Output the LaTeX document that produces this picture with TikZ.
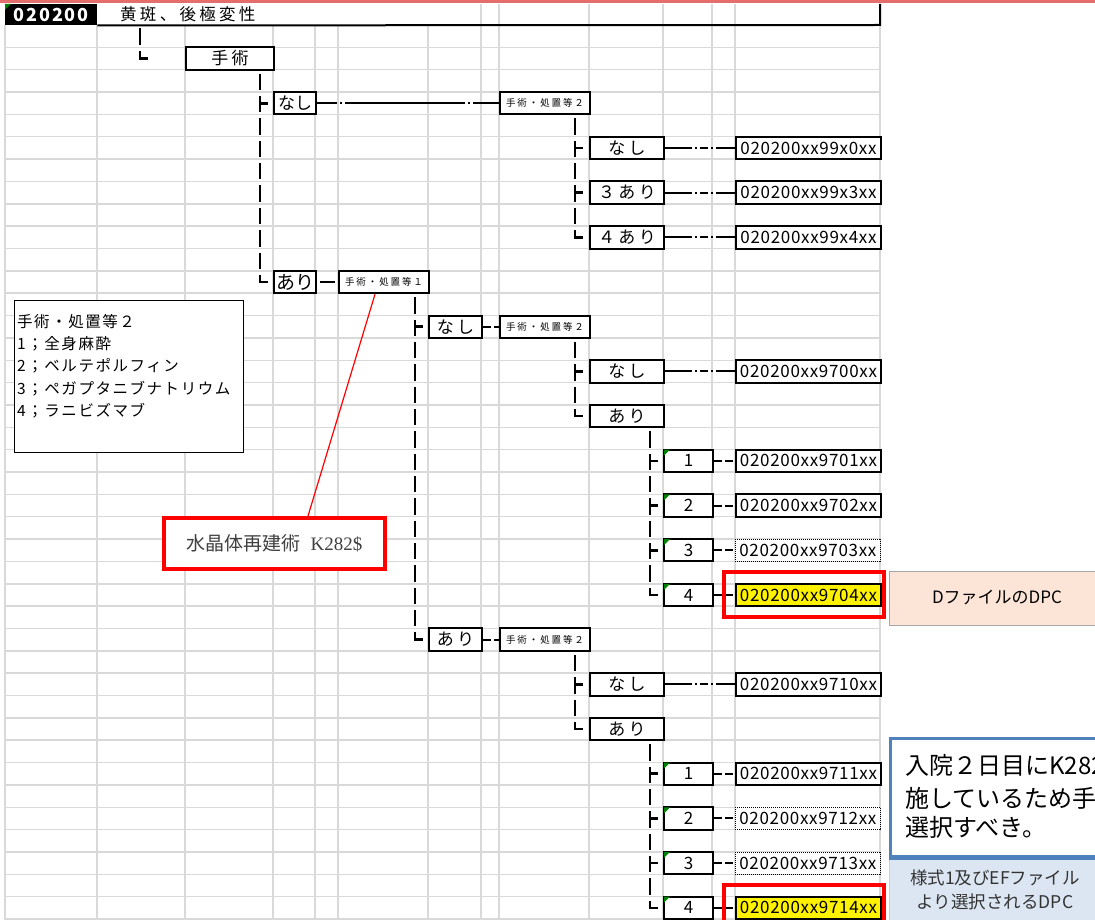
\documentclass[tikz,border=0pt]{standalone}
\usepackage{fontspec}
\setmainfont{Noto Sans CJK JP}
\newfontfamily\jp{Noto Sans CJK JP}
\newfontfamily\jpw[LetterSpace=20]{Noto Sans CJK JP}
\newfontfamily\jpm[LetterSpace=10]{Noto Sans CJK JP}
\newfontfamily\jpc[LetterSpace=4]{Noto Sans CJK JP}
\newfontfamily\lserif{Liberation Serif}
\usetikzlibrary{calc}
\definecolor{gridc}{RGB}{217,217,217}
\definecolor{topband}{RGB}{228,110,110}
\definecolor{tri}{RGB}{0,128,0}
\definecolor{peach}{RGB}{252,228,214}
\definecolor{bluebd}{RGB}{79,129,189}
\definecolor{paleblue}{RGB}{220,230,242}
\definecolor{calltext}{RGB}{64,64,64}
\newcommand\fsz[1]{\fontsize{#1}{#1}\selectfont}
\newcommand\R[1]{36.2+22.35*#1}
\begin{document}
\begin{tikzpicture}[x=1pt,y=-1pt,
  gridline/.style={draw=gridc, line width=1.5pt},
  cell/.style={draw, line width=2pt, fill=white, inner sep=0pt, minimum height=22.35pt, anchor=west},
  codecell/.style={cell, minimum width=145pt, font=\fsz{17}\jpc},
  dotcell/.style={codecell, line width=0.8pt, dash pattern=on 1pt off 1pt},
  yelcell/.style={codecell, fill=yellow},
  numcell/.style={cell, minimum width=49pt, font=\fsz{17}\jp},
  lvcell/.style={cell, minimum width=74pt, font=\fsz{17}\jpw},
  spcell/.style={cell, minimum width=90pt, font=\fsz{9.5}\jpw},
  trunk/.style={line width=2.6pt, dash pattern=on 16.35pt off 6pt, dash phase=19.35pt},
  tick/.style={line width=2.6pt},
  longdd/.style={line width=2pt, dash pattern=on 20pt off 3pt on 2pt off 3pt on 120pt off 3pt on 2pt off 3pt on 60pt},
  dd/.style={line width=2pt, dash pattern=on 27pt off 3pt on 2pt off 3pt on 8pt off 3pt on 2pt off 3pt on 60pt},
  sdash/.style={line width=2pt, dash pattern=on 8pt off 3pt},
  redbox/.style={draw=red, line width=4pt},
  gtri/.style={fill=tri}
]
\useasboundingbox (0,0) rectangle (1095,920);
\clip (0,0) rectangle (1095,920);
\fill[white] (0,0) rectangle (1095,920);
% spreadsheet grid
\foreach \x in {5,97,185,273,315,338,428} \draw[gridline] (\x,25) -- (\x,920);
\foreach \x in {481,499,589,663,712,735,880} \draw[gridline] (\x,4) -- (\x,920);
\foreach \k in {1,...,40} \draw[gridline] (5,{25+22.35*\k}) -- (880,{25+22.35*\k});
\fill[topband] (0,0) rectangle (1095,3.5);

% header
\node[fill=black, text=white, font=\fsz{18}\jpm\bfseries, minimum width=92pt, minimum height=21pt, inner sep=0pt, anchor=north west] (code) at (5,4) {020200};
\fill[gtri] (code.north west) -- ++(6,0) -- ++(-6,6) -- cycle;
\node[anchor=west, font=\fsz{16.5}\jpw, inner sep=0pt] (title) at (120,14.5) {黄斑、後極変性};
\draw[line width=2pt] (code.south east) -- (880,25) -- (880,4);

% trunk x positions
\coordinate (tA) at (140,0);
\coordinate (tB) at (260,0);
\coordinate (tC) at (575,0);
\coordinate (tD) at (415,0);
\coordinate (tE) at (650,0);

% nodes
\node[cell, minimum width=88pt, font=\fsz{17}\jpw] (sh) at (185,{\R{1}}) {手術};
\node[cell, minimum width=42pt, font=\fsz{17}\jp] (n1) at (273,{\R{3}}) {なし};
\node[spcell] (sp2a) at (499,{\R{3}}) {手術・処置等２};
\node[lvcell] (n1a) at (589,{\R{5}}) {なし};
\node[lvcell] (a3) at (589,{\R{7}}) {３あり};
\node[lvcell] (a4) at (589,{\R{9}}) {４あり};
\node[codecell] (c1) at (735,{\R{5}}) {020200xx99x0xx};
\node[codecell] (c2) at (735,{\R{7}}) {020200xx99x3xx};
\node[codecell] (c3) at (735,{\R{9}}) {020200xx99x4xx};
\node[cell, minimum width=42pt, font=\fsz{19}\jp] (a1) at (273,{\R{11}}) {あり};
\node[spcell] (sp1) at (338,{\R{11}}) {手術・処置等１};
\node[cell, minimum width=53pt, font=\fsz{17}\jpw] (n2) at (428,{\R{13}}) {なし};
\node[spcell] (sp2b) at (499,{\R{13}}) {手術・処置等２};
\node[lvcell] (n2a) at (589,{\R{15}}) {なし};
\node[codecell] (c4) at (735,{\R{15}}) {020200xx9700xx};
\node[lvcell] (a2a) at (589,{\R{17}}) {あり};
\node[numcell] (b1) at (663,{\R{19}}) {1};
\node[numcell] (b2) at (663,{\R{21}}) {2};
\node[numcell] (b3) at (663,{\R{23}}) {3};
\node[numcell] (b4) at (663,{\R{25}}) {4};
\node[codecell] (c5) at (735,{\R{19}}) {020200xx9701xx};
\node[codecell] (c6) at (735,{\R{21}}) {020200xx9702xx};
\node[dotcell] (c7) at (735,{\R{23}}) {020200xx9703xx};
\node[yelcell] (c8) at (735,{\R{25}}) {020200xx9704xx};
\node[cell, minimum width=53pt, font=\fsz{17}\jpw] (a2) at (428,{\R{27}}) {あり};
\node[spcell] (sp2c) at (499,{\R{27}}) {手術・処置等２};
\node[lvcell] (n3a) at (589,{\R{29}}) {なし};
\node[codecell] (c9) at (735,{\R{29}}) {020200xx9710xx};
\node[lvcell] (a3a) at (589,{\R{31}}) {あり};
\node[numcell] (d1) at (663,{\R{33}}) {1};
\node[numcell] (d2) at (663,{\R{35}}) {2};
\node[numcell] (d3) at (663,{\R{37}}) {3};
\node[numcell] (d4) at (663,{\R{39}}) {4};
\node[codecell] (c10) at (735,{\R{33}}) {020200xx9711xx};
\node[dotcell] (c11) at (735,{\R{35}}) {020200xx9712xx};
\node[dotcell] (c12) at (735,{\R{37}}) {020200xx9713xx};
\node[yelcell] (c13) at (735,{\R{39}}) {020200xx9714xx};

% green corner marks
\foreach \n in {b1,b2,b3,b4,d1,d2,d3,d4}
  \fill[gtri] ($(\n.north west)+(1,1)$) -- ++(6,0) -- ++(-6,6) -- cycle;

% trunks (vertical dashed lines ending in a corner)
\draw[trunk] (tA |- code.south) -- (tA |- sh.west) -- ++(8.2,0);
\draw[trunk] (tB |- sh.south) -- (tB |- a1.west) -- ++(8.2,0);
\draw[tick] (tB |- n1.west) -- ++(8,0);
\draw[trunk] (tC |- sp2a.south) -- (tC |- a4.west) -- ++(8.2,0);
\draw[tick] (tC |- n1a.west) -- ++(8,0);
\draw[tick] (tC |- a3.west) -- ++(8,0);
\draw[trunk] (tD |- sp1.south) -- (tD |- a2.west) -- ++(8.2,0);
\draw[tick] (tD |- n2.west) -- ++(8,0);
\draw[trunk] (tC |- sp2b.south) -- (tC |- a2a.west) -- ++(8.2,0);
\draw[tick] (tC |- n2a.west) -- ++(8,0);
\draw[trunk] (tE |- a2a.south) -- (tE |- b4.west) -- ++(8.2,0);
\foreach \n in {b1,b2,b3} \draw[tick] (tE |- \n.west) -- ++(8,0);
\draw[trunk] (tC |- sp2c.south) -- (tC |- a3a.west) -- ++(8.2,0);
\draw[tick] (tC |- n3a.west) -- ++(8,0);
\draw[trunk] (tE |- a3a.south) -- (tE |- d4.west) -- ++(8.2,0);
\foreach \n in {d1,d2,d3} \draw[tick] (tE |- \n.west) -- ++(8,0);

% horizontal connectors
\draw[longdd] (n1.east) -- (sp2a.west);
\draw[dd] (n1a.east) -- (c1.west);
\draw[dd] (a3.east) -- (c2.west);
\draw[dd] (a4.east) -- (c3.west);
\draw[dd] (n2a.east) -- (c4.west);
\draw[dd] (n3a.east) -- (c9.west);
\draw[line width=2pt, shorten <=3pt, shorten >=3pt] (a1.east) -- (sp1.west);
\draw[sdash] (n2.east) -- (sp2b.west);
\draw[sdash] (a2.east) -- (sp2c.west);
\draw[sdash] (b1.east) -- (c5.west);
\draw[sdash] (b2.east) -- (c6.west);
\draw[sdash] (b3.east) -- (c7.west);
\draw[sdash] (b4.east) -- (c8.west);
\draw[sdash] (d1.east) -- (c10.west);
\draw[sdash] (d2.east) -- (c11.west);
\draw[sdash] (d3.east) -- (c12.west);
\draw[sdash] (d4.east) -- (c13.west);

% legend box
\node[draw, line width=1.2pt, fill=white, anchor=north west, minimum width=229pt, minimum height=152pt, inner sep=0pt] (legend) at (14,300) {};
\node[anchor=north west, align=left, inner sep=0pt, font=\fontsize{15.5}{22.3}\selectfont\jpm] (legendtext) at (17,314)
  {手術・処置等２\\1；全身麻酔\\2；ベルテポルフィン\\3；ペガプタニブナトリウム\\4；ラニビズマブ};

% callout for K282
\node[redbox, fill=white, minimum width=221pt, minimum height=51pt, inner sep=0pt, text=calltext, font=\fsz{19}\jp] (callout) at (274.5,543.5) {水晶体再建術\hspace{10pt}{\lserif K282\$}};
\draw[red, line width=1.2pt] ($(sp1.south west)+(37,0)$) -- ($(callout.north west)+(146,0)$);

% red highlight boxes
\draw[redbox] ($(c8.north west)+(-11,-11)$) rectangle ($(c8.south east)+(2,10)$);
\draw[redbox] ($(c13.north west)+(-11,-11)$) rectangle ($(c13.south east)+(2,20)$);

% D file box
\node[draw=gray!70, line width=1pt, fill=peach, minimum width=210pt, minimum height=54pt, inner sep=0pt, anchor=north west] (dfile) at (889,571) {};
\node[font=\fsz{17}\jp, inner sep=0pt] (dfiletext) at (997,598) {DファイルのDPC};

% blue note box
\node[draw=bluebd, line width=3pt, fill=white, minimum width=220pt, minimum height=118pt, inner sep=0pt, anchor=north west] (note) at (889,737) {};
\node[anchor=west, inner sep=0pt, font=\fsz{24}\jp] (nt1) at (905,765) {入院２日目にK282};
\node[anchor=west, inner sep=0pt, font=\fsz{24}\jp] (nt2) at (905,798) {施しているため手};
\node[anchor=west, inner sep=0pt, font=\fsz{24}\jp] (nt3) at (905,827) {選択すべき。};
\node[draw=gray!40, line width=1pt, fill=paleblue, minimum width=220pt, minimum height=70pt, inner sep=0pt, anchor=north west] (ef) at (889,856.5) {};
\draw[bluebd, line width=3pt] (note.south west) -- (note.south east);
\node[align=center, inner sep=0pt, text=black!80, font=\fontsize{17.5}{24}\selectfont\jp] (eftext) at (995,890) {様式1及びEFファイル\\より選択されるDPC};
\end{tikzpicture}
\end{document}
